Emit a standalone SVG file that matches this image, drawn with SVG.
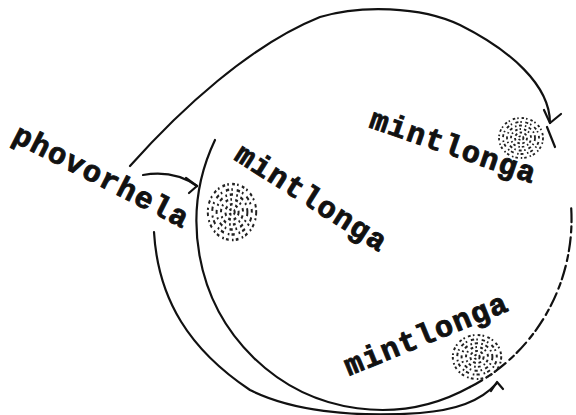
<svg xmlns="http://www.w3.org/2000/svg" xmlns:xlink="http://www.w3.org/1999/xlink" width="576" height="415" viewBox="0 0 576 415">
<style>
.lbl{font-family:"Liberation Mono","DejaVu Sans Mono",monospace;font-weight:bold;font-size:30px;letter-spacing:1.4px;fill:#111;stroke:#111;stroke-width:0.9px}
.ln{fill:none;stroke:#111;stroke-width:2.2;stroke-linecap:round;stroke-linejoin:round}
.st{fill:none;stroke:#222;stroke-width:1.8}
</style>
<defs>
<g id="stip">
<ellipse class="st" rx="22" ry="20" stroke-dasharray="2.5 2 1.5 3"/>
<ellipse class="st" rx="18" ry="16" stroke-dasharray="1.5 3.5 3 2" stroke-dashoffset="1"/>
<ellipse class="st" rx="14" ry="12.5" stroke-dasharray="3 3 1.5 2.5"/>
<ellipse class="st" rx="10" ry="9" stroke-dasharray="1.5 3 2.5 2" stroke-dashoffset="2"/>
<ellipse class="st" rx="6" ry="5.5" stroke-dasharray="2.5 2.5"/>
<ellipse class="st" rx="2.5" ry="2" stroke-dasharray="2 2"/>
</g>
</defs>
<rect width="576" height="415" fill="#fff"/>
<g id="connectors">
<path class="ln" d="M215,140 A185,188 0 0 0 470,387"/>
<path class="ln" d="M470,387 A185,188 0 0 0 571,205" stroke-dasharray="14 5 6 4"/>
<path class="ln" d="M547,127 L555,147"/>
<path class="ln" d="M130,166 C180,110 250,45 320,17 C360,5 420,6 460,25 C510,50 550,85 550,123"/>
<path class="ln" d="M544,110 L550,123 L561,114"/>
<path class="ln" d="M143,175 C160,172 180,174 197,186"/>
<path class="ln" d="M186,178 L197,186 L189,193"/>
<path class="ln" d="M154,232 C158,300 190,350 250,390 C290,410 350,418 420,413 C455,410 480,402 497,383"/>
<path class="ln" d="M491,391 L497,382 L503,389"/>
</g>
<g id="phovorhela">
<text class="lbl" x="11" y="141" transform="rotate(27 11 141)">phovorhela</text>
</g>
<g id="mintlonga1">
<text class="lbl" x="368" y="127" transform="rotate(19 368 127)">mintlonga</text>
<use xlink:href="#stip" transform="translate(521,138)"/>
</g>
<g id="mintlonga2">
<text class="lbl" x="233" y="159" transform="rotate(32.5 233 159)">mintlonga</text>
<use xlink:href="#stip" transform="translate(232,212) scale(1.1 1.4)"/>
</g>
<g id="mintlonga3">
<text class="lbl" x="349" y="376" transform="rotate(-22.2 349 376)">mintlonga</text>
<use xlink:href="#stip" transform="translate(477,357) scale(1.1 1.1)"/>
</g>
</svg>
